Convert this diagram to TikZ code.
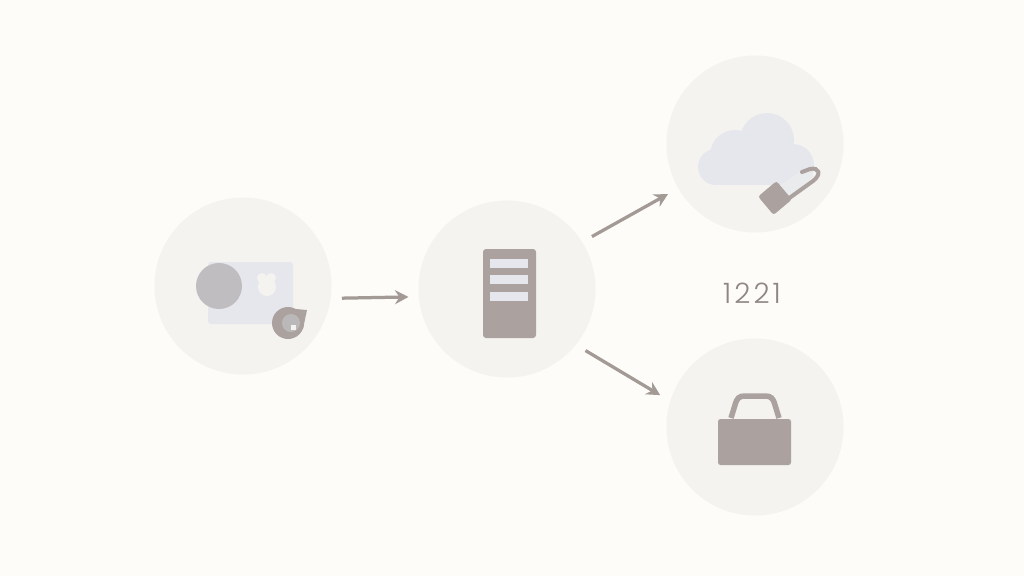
\documentclass[tikz,border=0pt]{standalone}
\usepackage{fontspec}
\newfontfamily\digitfont[UprightFont=* Light,LetterSpace=11]{Poppins}
\usetikzlibrary{arrows.meta}
\definecolor{paper}{HTML}{FDFCF9}
\definecolor{disc}{HTML}{F4F3F0}
\definecolor{icon}{HTML}{ABA29F}
\definecolor{pale}{HTML}{E6E7EC}
\definecolor{lens}{HTML}{BFBDC0}
\definecolor{arrowgray}{HTML}{A39A96}
\definecolor{digits}{HTML}{8F8684}
\tikzset{
    disk/.style={circle,fill=disc,minimum size=35.4mm,inner sep=0pt},
    flow/.style={line width=0.65mm,arrowgray,-{Stealth[length=2.7mm,width=2.8mm]},shorten >=2.3mm,shorten <=2.2mm},
}
\begin{document}
\begin{tikzpicture}[x=0.2mm,y=-0.2mm]
    \useasboundingbox (0,0) rectangle (1024,576);
    \fill[paper] (0,0) rectangle (1024,576);
    %% discs
    \node[disk] (camera) at (243,286) {};
    \node[disk] (server) at (507,289) {};
    \node[disk] (cloud) at (755,144) {};
    \node[disk] (case) at (755,427) {};
    %% camera
    \fill[pale,rounded corners=0.6mm] (208,262) rectangle (293,324);
    \fill[lens] (219,286) circle (23);
    \fill[disc] (267,287) circle (9);
    \foreach \x in {262,271}
        \fill[disc] (\x,278) circle (5);
    \fill[icon] (288,323) circle (16);
    \fill[icon] (296,309) -- (307,310) -- (303,329) -- cycle;
    \fill[lens!80!icon] (291,323) circle (9);
    \fill[disc] (291,325) rectangle (296,330);
    %% server
    \fill[icon,rounded corners=0.6mm] (483,249) rectangle (536,338);
    \foreach \y in {259,275,292}
        \fill[pale] (490,\y) rectangle (528,\y+9);
    %% cloud
    \fill[pale] (767,140) circle (27);
    \fill[pale] (735,155) circle (25);
    \fill[pale] (716,167) circle (18);
    \fill[pale] (793,165) circle (21);
    \fill[pale] (716,165) rectangle (793,185);
    %% padlock on cloud
    \fill[pale!70!disc] (781,184) -- (806,168) -- (814,176) -- (786,200) -- cycle;
    \draw[icon,line width=0.8mm,line cap=round] (788,199) -- (813,181)
        .. controls (822,174) and (819,167) .. (810,169) -- (802,172);
    \fill[icon,rounded corners=0.5mm,rotate around={40:(775,198)}] (763,186) rectangle (787,210);
    %% case
    \draw[icon,line width=1.1mm] (731,418) -- (735,405)
        .. controls (737,398) and (739,396) .. (745,396) -- (765,396)
        .. controls (771,396) and (773,398) .. (775,405) -- (779,418);
    \fill[icon,rounded corners=0.5mm] (718,419) rectangle (791,465);
    %% label
    \node[digits,font=\digitfont\fontsize{16}{18}\selectfont] (count) at (752,293) {1221};
    %% arrows
    \draw[flow,shorten >=2mm] (camera.-8) -- (server.185);
    \draw[flow] (server.32) -- (cloud.210);
    \draw[flow] (server.-39) -- (case.163);
\end{tikzpicture}
\end{document}
